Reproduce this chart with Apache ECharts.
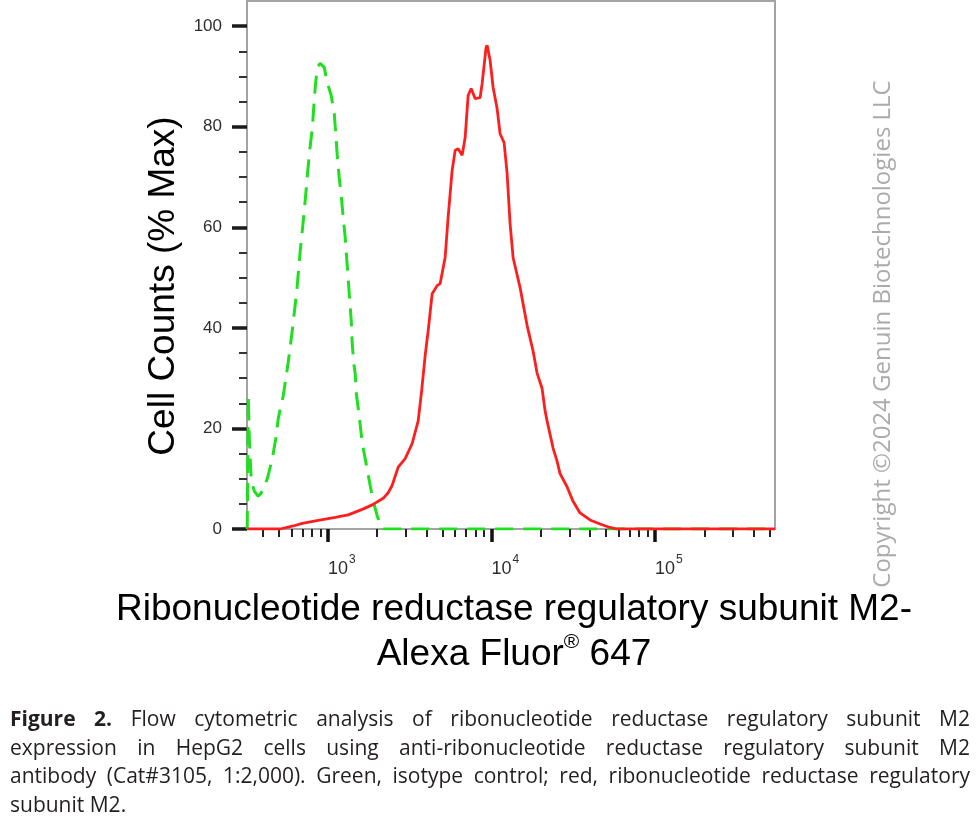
<!DOCTYPE html>
<html>
<head>
<meta charset="utf-8">
<title>Flow cytometric analysis - RRM2</title>
<script src="https://cdn.jsdelivr.net/npm/echarts@6/dist/echarts.min.js"></script>
<style>
  html, body { margin: 0; padding: 0; background: #fff; }
  #page { position: relative; width: 980px; height: 835px; overflow: hidden; }
  #chart { position: absolute; left: 0; top: 0; width: 980px; height: 835px; }
  #caption {
    position: absolute; left: 10px; top: 704px; width: 960px;
    font-family: 'Open Sans', 'Lato', sans-serif; font-size: 21px; line-height: 28.5px; color: #231f20;
  }
  #caption .ln { text-align: justify; text-align-last: justify; white-space: nowrap; }
  #caption .last { text-align: left; }
</style>
</head>
<body>
<div id="page">
  <div id="chart"></div>
  <div id="caption">
    <div class="ln"><b>Figure 2.</b> Flow cytometric analysis of ribonucleotide reductase regulatory subunit M2</div>
    <div class="ln">expression in HepG2 cells using anti-ribonucleotide reductase regulatory subunit M2</div>
    <div class="ln">antibody (Cat#3105, 1:2,000). Green, isotype control; red, ribonucleotide reductase regulatory</div>
    <div class="last">subunit M2.</div>
  </div>
</div>
<script>
// axis ranges / ticks
const xMin = 320
const xMax = 541000
const xMajorTicks = [1000, 10000, 100000]
const xMinorTicks = [400, 500, 600, 700, 800, 900,
  2000, 3000, 4000, 5000, 6000, 7000, 8000, 9000,
  20000, 30000, 40000, 50000, 60000, 70000, 80000, 90000,
  200000, 300000, 400000, 500000]
const yMajorTicks = [0, 20, 40, 60, 80, 100]
const yMinorTicks = [5, 10, 15, 25, 30, 35, 45, 50, 55, 65, 70, 75, 85, 90, 95]

// isotype control (green)
const isoSignal = [321, 326, 331, 340, 355, 375, 391, 426, 457, 480, 497, 533, 568, 605, 645, 677,
  717, 753, 774, 802, 819, 836, 860, 897, 949, 990, 1047, 1093, 1116, 1140, 1172, 1206, 1240,
  1276, 1302, 1330, 1359, 1388, 1407, 1437, 1468, 1489, 1553, 1620, 1714, 1813, 1891, 2001,
  2087, 2177, 541000]
const isoPct = [0, 26.5, 17.5, 9.5, 7.5, 6.5, 7.2, 10, 14, 18, 22, 26.5, 32.5, 39.4, 47.4, 55.3,
  63.3, 71.3, 75.3, 79.6, 83.8, 87.8, 91.8, 92.6, 91.8, 88.8, 86.2, 82.6, 78.6, 74.3, 69.9, 66.3, 61.9,
  57.9, 53.8, 49.8, 45.4, 41.4, 37, 33, 30.9, 27.1, 22.5, 17.1, 12.9, 8.6, 5.6, 2.6,
  1, 0, 0]

// RRM2 stained (red)
const rrm2Signal = [321, 397, 511, 614, 697, 872, 1108, 1330, 1620, 1865, 2177, 2335, 2471, 2688,
  2967, 3273, 3562, 3741, 3930, 4099, 4337, 4653, 4853, 5207, 5431, 5745, 5993, 6252, 6613, 6898,
  7194, 7506, 7938, 8518, 8763, 9268, 9399, 9804, 10228, 10820, 11285, 11940, 12455, 12991, 13550,
  14951, 16500, 17950, 18990, 20370, 21260, 21860, 23780, 25160, 26240, 28960, 31510, 34770,
  40030, 46070, 53030, 58530, 541000]
const rrm2Pct = [0, 0, 0, 0.6, 1.1, 1.7, 2.3, 2.8, 3.9, 4.8, 6.1, 7.2, 8.7, 12.3,
  14, 17, 21.5, 27.5, 34.5, 39.4, 46.8, 48.4, 48.8, 54, 62, 71.3, 75.3, 75.6, 74.3, 77.8,
  86.2, 87.6, 85.6, 85.8, 88.6, 95.8, 96.2, 93.2, 87.8, 83.6, 78.6, 76.8, 70.7, 60.7, 54,
  48, 40.5, 35.4, 31, 28, 23.5, 21.5, 16.1, 13.5, 11, 8.4, 5.5, 3.2,
  1.8, 1, 0.3, 0, 0]

const zip = (xs, ys) => xs.map((x, i) => [x, ys[i]])

const axisFont = 'Liberation Sans, Arial, sans-serif'
const axisGray = '#a3a3a3'
const labelColor = '#2e2e2e'

const chart = echarts.init(document.getElementById('chart'))

const option = {
  animation: false,
  backgroundColor: 'transparent',
  grid: {
    left: 247, right: 205, top: 1, bottom: 306,
    show: true, borderColor: axisGray, borderWidth: 2, backgroundColor: 'transparent'
  },
  xAxis: [
    {
      type: 'log', logBase: 10, min: xMin, max: xMax, position: 'bottom',
      axisLine: { show: true, onZero: false, lineStyle: { color: axisGray, width: 2 } },
      axisTick: { show: true, customValues: xMajorTicks, length: 13, lineStyle: { color: '#111', width: 3.5 } },
      axisLabel: {
        show: true, customValues: xMajorTicks, margin: 25, align: 'left',
        formatter: v => '{b|10}{s|' + Math.round(Math.log10(v)) + '}',
        rich: {
          b: { fontSize: 18, fontFamily: axisFont, color: labelColor, lineHeight: 24, verticalAlign: 'bottom' },
          s: { fontSize: 12, fontFamily: axisFont, color: labelColor, lineHeight: 13, verticalAlign: 'top', padding: [0, 0, 0, 1] }
        }
      },
      splitLine: { show: false },
      minorTick: { show: false },
      name: 'Ribonucleotide reductase regulatory subunit M2-\nAlexa Fluor{r|®} 647',
      nameLocation: 'middle', nameGap: 58,
      nameTextStyle: {
        fontSize: 37, fontFamily: axisFont, color: '#000', lineHeight: 45, padding: [0, 0, 0, 6],
        rich: { r: { fontSize: 21, fontFamily: axisFont, color: '#000', lineHeight: 22, verticalAlign: 'top' } }
      }
    },
    {
      type: 'log', logBase: 10, min: xMin, max: xMax, position: 'bottom', offset: 0,
      axisLine: { show: false },
      axisTick: { show: true, customValues: xMinorTicks, length: 8, lineStyle: { color: '#222', width: 2 } },
      axisLabel: { show: false },
      splitLine: { show: false }
    }
  ],
  yAxis: [
    {
      type: 'value', min: 0, max: 105, position: 'left',
      axisLine: { show: true, onZero: false, lineStyle: { color: axisGray, width: 2 } },
      axisTick: { show: true, customValues: yMajorTicks, length: 15, lineStyle: { color: '#1a1a1a', width: 3.5 } },
      axisLabel: { show: true, customValues: yMajorTicks, margin: 25, fontSize: 17, fontFamily: axisFont, color: labelColor },
      splitLine: { show: false },
      name: 'Cell Counts (% Max)',
      nameLocation: 'middle', nameRotate: 90, nameGap: 58,
      nameTextStyle: { fontSize: 37, fontFamily: axisFont, color: '#000', padding: [0, 42, 0, 0] }
    },
    {
      type: 'value', min: 0, max: 105, position: 'left', offset: 0,
      axisLine: { show: false },
      axisTick: { show: true, customValues: yMinorTicks, length: 8, lineStyle: { color: '#333', width: 2 } },
      axisLabel: { show: false },
      splitLine: { show: false }
    }
  ],
  graphic: [
    {
      type: 'text', x: 883, y: 334, rotation: Math.PI / 2, z: -1,
      style: {
        text: 'Copyright \u00a92024 Genuin Biotechnologies LLC',
        fontSize: 24, fontFamily: 'Open Sans, sans-serif', fill: '#ababab',
        align: 'center', verticalAlign: 'middle'
      }
    }
  ],
  series: [
    {
      name: 'Isotype control', type: 'line', xAxisIndex: 0, yAxisIndex: 0,
      data: zip(isoSignal, isoPct), showSymbol: false, smooth: false,
      lineStyle: { color: '#1fe01f', width: 3, type: [18, 10] }, z: 2
    },
    {
      name: 'RRM2', type: 'line', xAxisIndex: 0, yAxisIndex: 0,
      data: zip(rrm2Signal, rrm2Pct), showSymbol: false, smooth: false,
      lineStyle: { color: '#ff1e1e', width: 2.8 }, z: 3
    }
  ]
}

chart.setOption(option)
window.addEventListener('resize', () => chart.resize())
</script>
</body>
</html>
